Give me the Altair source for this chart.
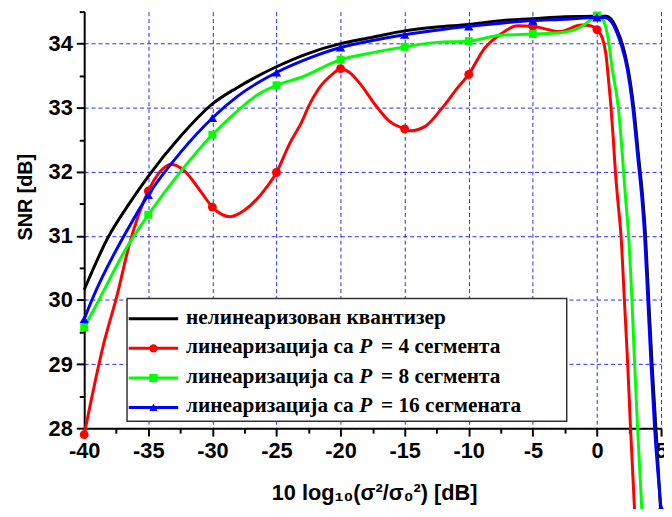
import altair as alt
import pandas as pd

# ---------------- data ----------------
black_x = [-40, -38.1, -36.5, -35, -32.5, -30, -28.1, -25, -22.5, -20, -17.5, -15, -12.5, -10, -7.5, -5, -2.5, 0,
           0.7, 1.2, 1.6, 2.0, 2.42, 2.87, 3.27, 3.57, 3.79, 4.04, 4.3, 4.6, 5.0]
black_y = [30.16, 30.99, 31.5, 31.93, 32.55, 33.06, 33.31, 33.64, 33.85, 34.0, 34.1, 34.2, 34.26, 34.3, 34.36, 34.39, 34.42, 34.43,
           34.43, 34.36, 34.2, 33.98, 33.62, 33.0, 32.2, 31.6, 31.0, 30.0, 29.0, 28.0, 26.6]

red_x = [-40, -38.5, -37.4, -36.5, -35, -34, -33.2, -32.2, -31, -30, -28.6, -27.5, -26, -25, -24, -23, -22.5, -21.7,
         -20.6, -20, -19.3, -18.5, -17.2, -16.2, -15, -14.6, -13.4, -12.1, -10.8, -10, -8.8, -7.5, -6.2, -5, -2.9,
         -1.2, -0.5, 0, 0.45, 0.71, 0.92, 1.1, 1.28, 1.44, 1.63, 1.88, 2.14, 2.4, 2.62, 2.95]
red_y = [27.9, 29.3, 30.1, 30.85, 31.7, 32.02, 32.12, 32.02, 31.72, 31.45, 31.3, 31.4, 31.7, 31.99, 32.43, 32.79, 33.02, 33.3,
         33.53, 33.61, 33.55, 33.38, 33.02, 32.79, 32.67, 32.64, 32.71, 32.99, 33.33, 33.52, 33.92, 34.15, 34.28, 34.27, 34.19,
         34.29, 34.28, 34.22, 34.07, 33.82, 33.4, 33.0, 32.5, 32.0, 31.55, 31.0, 30.0, 29.0, 28.0, 26.66]

green_x = [-40, -38.85, -36.8, -35, -32.5, -30, -28.1, -26.5, -25, -23, -20, -17.5, -15, -12.5, -10, -7.5, -5, -2.9,
           -1.1, -0.3, 0, 0.45, 0.84, 1.2, 1.67, 2.25, 2.47, 2.73, 2.94, 3.17, 3.52]
green_y = [29.57, 30.0, 30.78, 31.33, 32.0, 32.58, 32.94, 33.2, 33.35, 33.48, 33.75, 33.86, 33.95, 34.02, 34.04, 34.13, 34.15, 34.17,
           34.28, 34.4, 34.44, 34.38, 34.12, 33.6, 33.0, 31.55, 31.0, 30.0, 29.0, 28.0, 26.66]

blue_x = [-40, -39.4, -36.5, -35, -32.5, -30, -28.1, -25, -22.5, -20, -17.5, -15, -12.5, -10, -7.5, -5, -2.5, 0,
          0.6, 1.1, 1.5, 1.9, 2.35, 2.8, 3.2, 3.5, 3.72, 3.97, 4.22, 4.5, 5.0]
blue_y = [29.70, 30.0, 31.14, 31.64, 32.3, 32.84, 33.17, 33.55, 33.77, 33.94, 34.05, 34.14, 34.21, 34.27, 34.32, 34.36, 34.38, 34.41,
          34.41, 34.35, 34.2, 33.98, 33.62, 33.0, 32.2, 31.6, 31.0, 30.0, 29.0, 28.0, 26.75]

# marker points (every 5 dB)
red_mx = [-40, -35, -30, -25, -20, -15, -10, -5, 0]
red_my = [27.9, 31.7, 31.45, 31.99, 33.61, 32.67, 33.52, 34.27, 34.22]
green_mx = [-40, -35, -30, -25, -20, -15, -10, -5, 0]
green_my = [29.57, 31.33, 32.58, 33.35, 33.75, 33.95, 34.04, 34.15, 34.44]
blue_mx = [-40, -35, -30, -25, -20, -15, -10, -5, 0, 5]
blue_my = [29.70, 31.64, 32.84, 33.55, 33.94, 34.14, 34.27, 34.36, 34.41, 26.75]

x_ticks = [-40, -37.5, -35, -32.5, -30, -27.5, -25, -22.5, -20, -17.5, -15, -12.5, -10, -7.5, -5, -2.5, 0, 2.5, 5]
y_ticks = [28, 28.5, 29, 29.5, 30, 30.5, 31, 31.5, 32, 32.5, 33, 33.5, 34, 34.5]

legend_main = ["нелинеаризован квантизер", "линеаризација са ", "линеаризација са ", "линеаризација са "]
legend_p = ["", "P", "P", "P"]
legend_rest = ["", "= 4 сегмента", "= 8 сегмента", "= 16 сегмената"]
series_colors = ["#000000", "#ff0000", "#00ff00", "#0000ff"]
series_shapes = ["", "circle", "square", "triangle-up"]

# ---------------- styling ----------------
SANS = "Liberation Sans"
SERIF = "Liberation Serif"
GRID = "#1010ff"

x_axis = alt.Axis(
    values=x_ticks,
    labelExpr="datum.value % 5 === 0 ? '' + datum.value : ''",
    grid=True, gridColor=GRID, gridDash=[4, 3], gridWidth=1,
    gridOpacity={"condition": {"test": "datum.value % 5 === 0", "value": 0.9}, "value": 0},
    tickSize={"condition": {"test": "datum.value % 5 === 0", "value": 8}, "value": 5},
    tickWidth=2, tickColor="black", domainColor="black", domainWidth=2,
    labelFont=SANS, labelFontWeight="bold", labelFontSize=22, labelColor="black",
    labelPadding=5, labelOverlap=False, labelFlush=False, labelBound=False,
    title="10 log₁₀(σ²/σ₀²) [dB]", titleFont=SANS, titleFontWeight="bold", titleFontSize=22,
    titleColor="black", titleX=293, titleY=72, titleAlign="center", titleBaseline="alphabetic",
)
y_axis = alt.Axis(
    values=y_ticks,
    labelExpr="datum.value % 1 === 0 ? '' + datum.value : ''",
    grid=True, gridColor=GRID, gridDash=[4, 3], gridWidth=1,
    gridOpacity={"condition": {"test": "datum.value % 1 === 0", "value": 0.9}, "value": 0},
    tickSize={"condition": {"test": "datum.value % 1 === 0", "value": 8}, "value": 5},
    tickWidth=2, tickColor="black", domainColor="black", domainWidth=2,
    labelFont=SANS, labelFontWeight="bold", labelFontSize=22, labelColor="black",
    labelPadding=4, labelOverlap=False, labelFlush=False, labelBound=False,
    title="SNR [dB]", titleFont=SANS, titleFontWeight="bold", titleFontSize=20,
    titleColor="black", titleX=-59, titleY=187, titleAngle=270,
    titleAlign="center", titleBaseline="middle",
)

X = alt.X("x:Q", scale=alt.Scale(domain=[-40, 5], nice=False, zero=False), axis=x_axis)
Y = alt.Y("y:Q", scale=alt.Scale(domain=[28, 34.5], nice=False, zero=False), axis=y_axis)


def line_layer(xs, ys, color):
    df = pd.DataFrame({"x": xs, "y": ys})
    return alt.Chart(df).mark_line(color=color, strokeWidth=3, interpolate="monotone").encode(x=X, y=Y)


def point_layer(xs, ys, color, shape, size):
    df = pd.DataFrame({"x": xs, "y": ys})
    return alt.Chart(df).mark_point(filled=True, shape=shape, size=size, color=color, opacity=1).encode(x=X, y=Y)


layers = [
    line_layer(black_x, black_y, series_colors[0]),
    line_layer(red_x, red_y, series_colors[1]),
    point_layer(red_mx, red_my, series_colors[1], "circle", 81),
    line_layer(green_x, green_y, series_colors[2]),
    point_layer(green_mx, green_my, series_colors[2], "square", 64),
    line_layer(blue_x, blue_y, series_colors[3]),
    point_layer(blue_mx, blue_my, series_colors[3], "triangle-up", 90),
]

# ---------------- hand-built legend (pixel positions inside the plot) ----------------
one = pd.DataFrame({"k": [0]})
layers.append(
    alt.Chart(one).mark_rect(fill="white", stroke="#333333", strokeWidth=1.5).encode(
        x=alt.value(43.3), x2=alt.value(487.7), y=alt.value(290), y2=alt.value(414))
)
row_y = [310.3, 340.3, 370.3, 400.0]
for i in range(4):
    ly = row_y[i]
    layers.append(alt.Chart(one).mark_rule(color=series_colors[i], strokeWidth=3).encode(
        x=alt.value(45), x2=alt.value(95), y=alt.value(ly)))
    if series_shapes[i]:
        layers.append(alt.Chart(one).mark_point(filled=True, shape=series_shapes[i], size=70,
                                                color=series_colors[i], opacity=1).encode(
            x=alt.value(70), y=alt.value(ly)))
    base = dict(align="left", baseline="alphabetic", font=SERIF, fontWeight="bold", fontSize=21.5, color="black")
    layers.append(alt.Chart(one).mark_text(**base).encode(
        x=alt.value(103), y=alt.value(ly + 5), text=alt.value(legend_main[i])))
    if legend_p[i]:
        layers.append(alt.Chart(one).mark_text(fontStyle="italic", **base).encode(
            x=alt.value(278), y=alt.value(ly + 5), text=alt.value(legend_p[i])))
        layers.append(alt.Chart(one).mark_text(**base).encode(
            x=alt.value(300), y=alt.value(ly + 5), text=alt.value(legend_rest[i])))

chart = alt.layer(*layers).properties(
    width=583, height=421,
    padding={"left": 77, "top": 1, "right": 3, "bottom": 79},
    autosize=alt.AutoSizeParams(type="none"),
    background="white",
).configure_view(stroke="transparent")

chart.save("out.html", embed_options={"renderer": "svg", "actions": False})
